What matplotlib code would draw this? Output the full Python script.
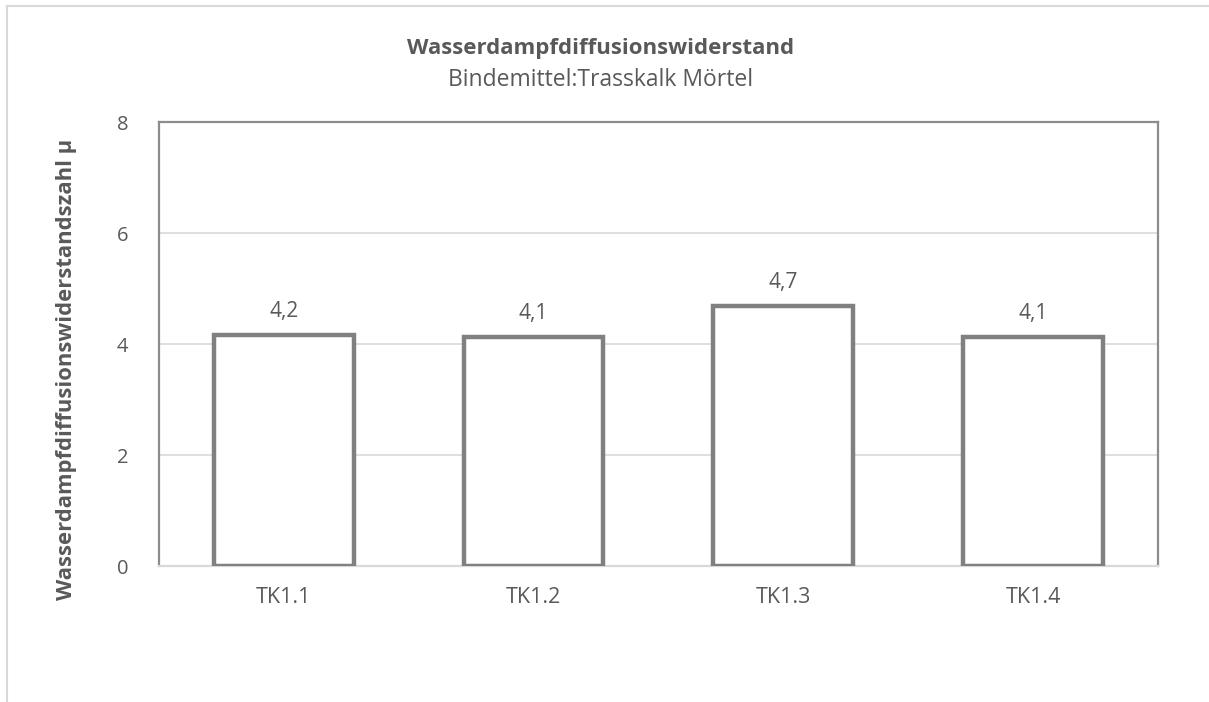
import matplotlib.pyplot as plt
import numpy as np
from matplotlib.lines import Line2D

plt.rcParams['font.family'] = ['Open Sans', 'DejaVu Sans']

## -- data
samples = ['TK1.1', 'TK1.2', 'TK1.3', 'TK1.4']
mu_values = [4.16, 4.12, 4.69, 4.12]
y_ticks = [0, 2, 4, 6, 8]

txt_col = '#595959'
bar_col = '#808080'
grid_col = '#d9d9d9'

fig = plt.figure(figsize=(12.09, 7.02), dpi=100)
fig.patch.set_facecolor('white')
ax = fig.add_axes([0.1315, 0.1937, 0.8262, 0.6325])

x = np.arange(len(samples))
bars = ax.bar(x, mu_values, width=0.56, color='white', edgecolor=bar_col,
              linewidth=3.2, zorder=3)

ax.set_xlim(-0.5, len(samples) - 0.5)
ax.set_ylim(0, 8)
ax.set_yticks(y_ticks)
ax.set_yticklabels([str(t) for t in y_ticks])
ax.set_xticks(x)
ax.set_xticklabels(samples)
ax.tick_params(axis='both', length=0, colors=txt_col, labelsize=14.5)
ax.tick_params(axis='x', labelsize=15.5, pad=15)
ax.tick_params(axis='y', pad=22)

## -- gridlines and frame
ax.yaxis.grid(True, color=grid_col, linewidth=1.2, zorder=0)
ax.set_axisbelow(True)
for side in ['left', 'top', 'right']:
  ax.spines[side].set_color('#8c8c8c')
  ax.spines[side].set_linewidth(1.6)
ax.spines['bottom'].set_color(grid_col)
ax.spines['bottom'].set_linewidth(1.6)

## -- value labels (comma decimal)
for xi, v in zip(x, mu_values):
  ax.annotate(f'{v:.1f}'.replace('.', ','), (xi, v), xytext=(0, 17),
              textcoords='offset points', ha='center', va='center',
              color=txt_col, fontsize=15)

ax.set_ylabel('Wasserdampfdiffusionswiderstandszahl µ', fontsize=15.8,
              fontweight='bold', color=txt_col, va='center')
ax.yaxis.set_label_coords(-0.093, 0.442)

fig.text(0.4967, 0.931, 'Wasserdampfdiffusionswiderstand', ha='center',
         va='center', fontsize=16, fontweight='bold', color=txt_col)
fig.text(0.4967, 0.886, 'Bindemittel:Trasskalk Mörtel', ha='center',
         va='center', fontsize=16.5, color=txt_col)

## -- outer chart border (top and left edges)
fig.add_artist(Line2D([0.0058, 1.0], [0.9915, 0.9915], color=grid_col,
                      linewidth=1.5, transform=fig.transFigure))
fig.add_artist(Line2D([0.0058, 0.0058], [0.0, 0.9915], color=grid_col,
                      linewidth=1.5, transform=fig.transFigure))

fig.savefig('out.png', dpi=100)
